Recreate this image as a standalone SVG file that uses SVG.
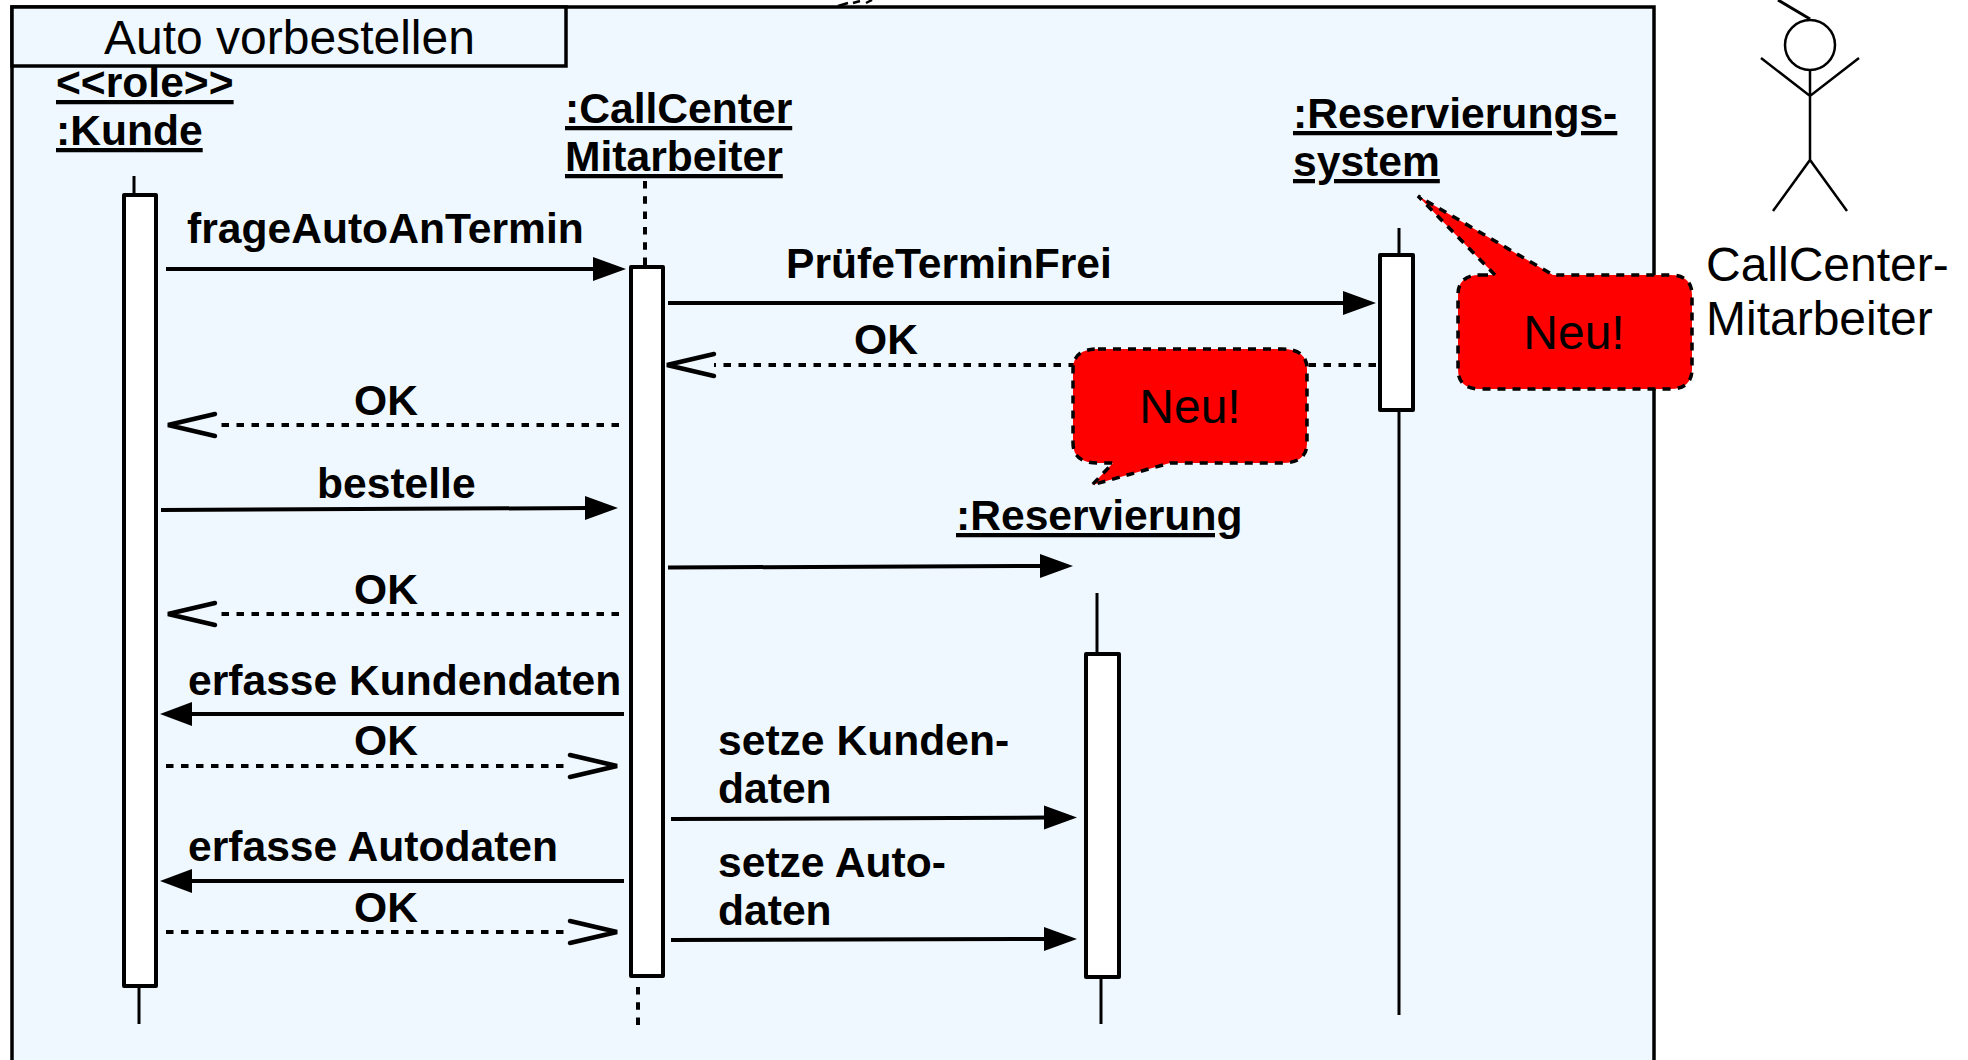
<svg xmlns="http://www.w3.org/2000/svg" width="1968" height="1060" viewBox="0 0 1968 1060">
<style>
text{font-family:"Liberation Sans",Arial,sans-serif;fill:#000}
.b{font-weight:700;font-size:42.6px}
.r{font-size:48px}
.u{text-decoration:underline}
.m{fill:none;stroke:#000;stroke-width:4}
.d{fill:none;stroke:#000;stroke-width:4;stroke-dasharray:7.500 7.500}
.o{fill:none;stroke:#000;stroke-width:4.500;stroke-linecap:round}
.h{fill:#000;stroke:none}
.act{fill:#fff;stroke:#000;stroke-width:4;stroke-linejoin:round}
.ll{fill:none;stroke:#000;stroke-width:3}
.lld{fill:none;stroke:#000;stroke-width:4;stroke-dasharray:7.500 7.800}
.bub{fill:#f00;stroke:#000;stroke-width:3.500;stroke-dasharray:8 7}
.fig{fill:none;stroke:#000;stroke-width:2.500}
</style>
<rect width="1968" height="1060" fill="#fff"/>
<g id="frame">
<path d="M12 1060V7H1654V1060" fill="#f0f8ff" stroke="#000" stroke-width="3.500"/>
<rect x="12" y="7" width="554" height="59" fill="#f0f8ff" stroke="#000" stroke-width="3.500"/>
<text class="r" x="104" y="54">Auto vorbestellen</text>
</g>
<path d="M838 6 L848 3 M853 3 L860 1 M866 3 L872 0" fill="none" stroke="#000" stroke-width="2.500"/>
<g id="kunde">
<text class="b u" x="56" y="97">&lt;&lt;role&gt;&gt;</text>
<text class="b u" x="56" y="145">:Kunde</text>
<path class="ll" d="M134 176V195M139 986V1024"/>
<rect class="act" x="124" y="195" width="32" height="791"/>
</g>
<g id="callcenter">
<text class="b u" x="565" y="123">:CallCenter</text>
<text class="b u" x="565" y="171">Mitarbeiter</text>
<path class="lld" d="M645 181V267M638 987V1025"/>
<rect class="act" x="631" y="267" width="32" height="709"/>
</g>
<g id="reservierungssystem">
<text class="b u" x="1293" y="128">:Reservierungs-</text>
<text class="b u" x="1293" y="176">system</text>
<path class="ll" d="M1399 228V255M1399 410V1015"/>
<rect class="act" x="1380" y="255" width="33" height="155"/>
</g>
<g id="reservierung">
<text class="b u" x="956" y="530">:Reservierung</text>
<path class="ll" d="M1097 593V654M1101 977V1024"/>
<rect class="act" x="1086" y="654" width="33" height="323"/>
</g>
<g id="connectors">
<path class="m" d="M166 269H595"/><path class="h" d="M626 269L593 257V281Z"/>
<path class="m" d="M668 303H1345"/><path class="h" d="M1376 303L1343 291V315Z"/>
<path class="d" d="M1376 365H714"/><path class="o" d="M714 354L667 365L714 376"/>
<path class="d" d="M619 425H215"/><path class="o" d="M215 414L168 425L215 436"/>
<path class="m" d="M161 510L590 508"/><path class="h" d="M618 508L585 496V520Z"/>
<path class="m" d="M668 567.500L1045 566"/><path class="h" d="M1073 566L1040 554V578Z"/>
<path class="d" d="M619 614H215"/><path class="o" d="M215 603L168 614L215 625"/>
<path class="m" d="M624 714H190"/><path class="h" d="M160 714L192 702V726Z"/>
<path class="d" d="M166 766H570"/><path class="o" d="M570 755L617 766L570 777"/>
<path class="m" d="M671 819L1050 817.500"/><path class="h" d="M1077 817.500L1044 805.500V829.500Z"/>
<path class="m" d="M624 881H190"/><path class="h" d="M160 881L192 869V893Z"/>
<path class="d" d="M166 932H570"/><path class="o" d="M570 921L617 932L570 943"/>
<path class="m" d="M671 940L1050 939"/><path class="h" d="M1077 939L1044 927V951Z"/>
<text class="b" x="187" y="243">frageAutoAnTermin</text>
<text class="b" x="786" y="278">PrüfeTerminFrei</text>
<text class="b" x="854" y="354">OK</text>
<text class="b" x="354" y="415">OK</text>
<text class="b" x="317" y="498">bestelle</text>
<text class="b" x="354" y="604">OK</text>
<text class="b" x="188" y="695">erfasse Kundendaten</text>
<text class="b" x="354" y="755">OK</text>
<text class="b" x="718" y="755">setze Kunden-</text>
<text class="b" x="718" y="803">daten</text>
<text class="b" x="188" y="861">erfasse Autodaten</text>
<text class="b" x="354" y="922">OK</text>
<text class="b" x="718" y="877">setze Auto-</text>
<text class="b" x="718" y="925">daten</text>
</g>
<g id="note-reservierung">
<path class="bub" d="M1098 349H1282Q1307 349 1307 369V443Q1307 463 1282 463H1170L1092 485L1113 463H1098Q1073 463 1073 443V369Q1073 349 1098 349Z"/>
<text class="r" x="1190" y="423" text-anchor="middle">Neu!</text>
</g>
<g id="note-system">
<path class="bub" d="M1480 275H1495L1418 196L1553 275H1670Q1692 275 1692 295V369Q1692 389 1670 389H1480Q1458 389 1458 369V295Q1458 275 1480 275Z"/>
<text class="r" x="1574" y="349" text-anchor="middle">Neu!</text>
</g>
<g id="actor">
<circle class="fig" cx="1810" cy="45" r="25"/>
<path class="fig" d="M1810 70V160M1761 58L1810 96L1859 58M1773 211L1810 160L1847 211"/>
<path d="M1778 0L1810 19" fill="none" stroke="#000" stroke-width="3"/>
<text class="r" x="1706" y="281">CallCenter-</text>
<text class="r" x="1706" y="335">Mitarbeiter</text>
</g>
</svg>
